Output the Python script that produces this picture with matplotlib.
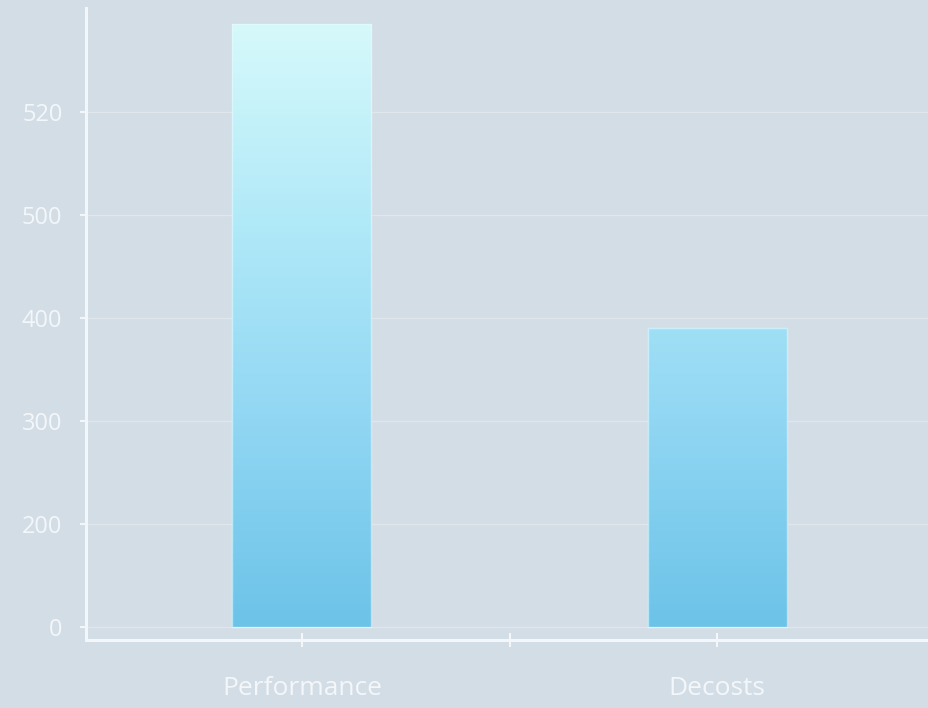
import matplotlib
matplotlib.use("Agg")
import matplotlib.pyplot as plt
import numpy as np
from matplotlib.colors import LinearSegmentedColormap

categories = ["Performance", "Decosts"]
values = [585, 290]
ytick_values = [0, 100, 200, 300, 400, 500]
ytick_labels = ["0", "200", "300", "400", "500", "520"]

bg = "#d3dde6"
txt = "#f4f7fa"

fig = plt.figure(figsize=(9.29, 7.08), dpi=100, facecolor=bg)
ax = fig.add_axes([86/929, 68/708, 1 - 86/929, (640 - 8)/708])
ax.set_facecolor(bg)

x = np.arange(len(categories))
bars = ax.bar(x, values, width=0.335, color="none", edgecolor="none", zorder=3)

ax.set_xlim(-0.52, 1.51)
ax.set_ylim(-12.6, 601)

cmap = LinearSegmentedColormap.from_list("g", ["#6cc3e8", "#90d6f3", "#b0e9f8", "#d6f9fb"])
grad = np.linspace(0, 1, 256).reshape(-1, 1)
for b in bars:
    im = ax.imshow(grad, cmap=cmap, aspect="auto", origin="lower",
                   extent=[b.get_x(), b.get_x() + b.get_width(), 0, max(values)],
                   zorder=3)
    im.set_clip_path(b)
    ax.add_patch(plt.Rectangle((b.get_x(), 0), b.get_width(), b.get_height(),
                               fill=False, edgecolor="#e6fbff", linewidth=1.0,
                               alpha=0.6, zorder=4))

ax.set_yticks(ytick_values)
ax.set_yticklabels(ytick_labels)
ax.set_xticks([0, 0.5, 1])
ax.set_xticklabels([categories[0], "", categories[1]])

for lab in ax.get_yticklabels():
    lab.set_fontfamily("Open Sans")
    lab.set_fontsize(17)
    lab.set_color(txt)
for lab in ax.get_xticklabels():
    lab.set_fontfamily("Open Sans")
    lab.set_fontsize(19)
    lab.set_color(txt)

ax.tick_params(axis="y", direction="out", length=4, width=1.5, color=txt, pad=13)
ax.tick_params(axis="x", direction="inout", length=10, width=1.5, color=txt, pad=21)

for s in ["top", "right"]:
    ax.spines[s].set_visible(False)
for s in ["left", "bottom"]:
    ax.spines[s].set_color(txt)
    ax.spines[s].set_linewidth(2.2)

ax.yaxis.grid(True, color="white", alpha=0.28, linewidth=1.0, zorder=1)
ax.set_axisbelow(True)

fig.savefig("out.png", dpi=100, facecolor=bg)
